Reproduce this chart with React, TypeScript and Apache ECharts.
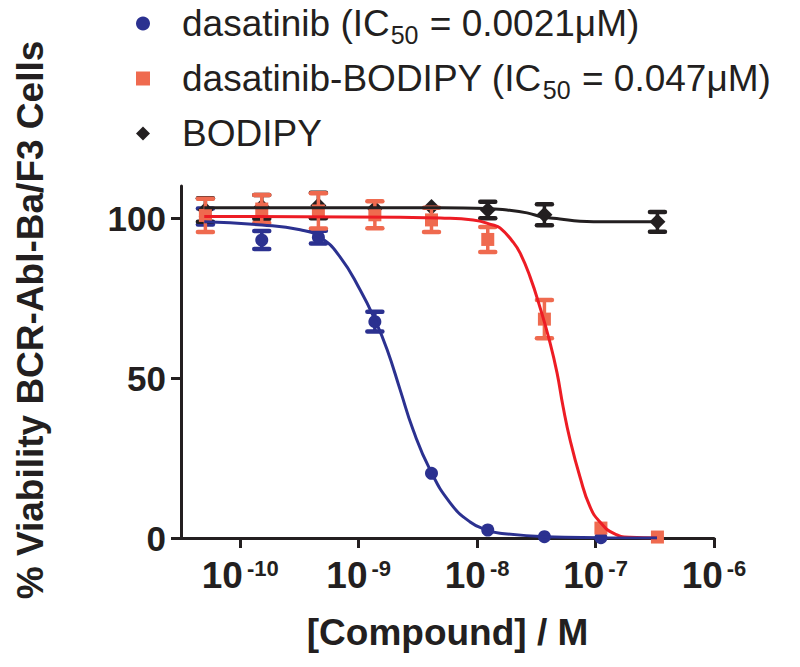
import React, { useEffect, useRef } from "react";
import * as echarts from "echarts";

// ---- data (concentrations in M, viability in %) ----
const concentrations = [5.08e-11, 1.52e-10, 4.57e-10, 1.37e-9, 4.12e-9, 1.23e-8, 3.7e-8, 1.11e-7, 3.33e-7];

const dasatinibMean: (number | null)[] = [100.5, 93.1, 94.0, 67.6, 20.2, 2.5, 0.4, 0.1, null];
const dasatinibErr: (number | null)[] = [2.5, 2.8, 2.0, 3.1, 0, 0, 0, 0, null];

const conjugateMean: (number | null)[] = [100.8, 102.8, 102.2, 101.0, 99.4, 93.3, 68.4, 3.1, 0.3];
const conjugateErr: (number | null)[] = [5.2, 4.4, 5.5, 4.2, 3.8, 3.9, 6.0, 0, 0];

const bodipyMean: (number | null)[] = [102.5, 103.5, 103.9, 103.0, 103.4, 102.5, 101.0, null, 98.8];
const bodipyErr: (number | null)[] = [3.7, 3.7, 4.0, 0, 0, 2.6, 3.3, null, 3.1];

// fitted curves
const dasatinibFitX = [4.97e-11, 1.53e-10, 3.21e-10, 4.73e-10, 6.98e-10, 1.03e-9, 1.38e-9, 1.74e-9, 2.24e-9, 2.88e-9, 4.01e-9, 5.92e-9, 8.73e-9, 1.21e-8, 1.56e-8, 3.75e-8, 1.11e-7, 3.3e-7];
const dasatinibFitY = [98.8, 97.8, 96.3, 94.0, 87.8, 77.5, 68.0, 58.8, 46.3, 33.8, 21.3, 11.0, 5.0, 2.5, 1.5, 0.4, 0.1, 0.0];

const conjugateFitX = [4.97e-11, 3.21e-10, 2.24e-9, 4.88e-9, 9.25e-9, 1.36e-8, 1.56e-8, 2.01e-8, 2.31e-8, 2.8e-8, 3.4e-8, 4.13e-8, 4.73e-8, 5.32e-8, 6.1e-8, 7.4e-8, 8.99e-8, 1.09e-7, 1.41e-7, 1.95e-7, 3.3e-7];
const conjugateFitY = [100.5, 100.4, 100.2, 100.0, 99.4, 97.8, 96.9, 92.5, 89.0, 81.6, 72.0, 61.0, 51.6, 41.0, 30.6, 19.0, 9.7, 5.0, 1.5, 0.2, 0.0];

const bodipyFitX = [4.97e-11, 4.88e-9, 1.21e-8, 1.79e-8, 2.64e-8, 3.61e-8, 5.01e-8, 7.4e-8, 1.25e-7, 3.3e-7];
const bodipyFitY = [103.2, 103.2, 103.0, 102.5, 101.6, 100.3, 99.7, 99.0, 98.8, 98.8];

const seriesNames = [
  "dasatinib (IC50 = 0.0021μM)",
  "dasatinib-BODIPY (IC50 = 0.047μM)",
  "BODIPY",
];
const legendLabels = [
  "{gap|}dasatinib (IC{sub|50} = 0.0021μM)",
  "{gap|}dasatinib-BODIPY (IC{sub|50} = 0.047μM)",
  "{gap|}BODIPY",
];

const xTickExponents = [-10, -9, -8, -7, -6];
const yTicks = [0, 50, 100];

const BLUE = "#2b3190";
const ORANGE = "#ef6a4f";
const RED = "#ed1c24";
const BLACK = "#231f20";
const FONT = "'Liberation Sans', Arial, Helvetica, sans-serif";

function points(mean: (number | null)[], err: (number | null)[]) {
  const out: number[][] = [];
  concentrations.forEach((c, i) => {
    const m = mean[i];
    if (m === null || m === undefined) return;
    out.push([Math.log10(c), m, err[i] || 0]);
  });
  return out;
}

function curve(xs: number[], ys: number[]) {
  return xs.map((x, i) => [Math.log10(x), ys[i]]);
}

function errorBars(color: string, data: number[][], z: number) {
  return {
    type: "custom",
    z,
    silent: true,
    data,
    encode: { x: 0, y: 1 },
    renderItem: (_params: any, api: any) => {
      const x = api.value(0);
      const y = api.value(1);
      const e = api.value(2);
      if (!e) return null;
      const top = api.coord([x, y + e]);
      const bot = api.coord([x, y - e]);
      const hw = 7.5;
      const cap = { stroke: color, lineWidth: 4.5, lineCap: "round" };
      return {
        type: "group",
        children: [
          { type: "line", shape: { x1: top[0], y1: top[1], x2: bot[0], y2: bot[1] }, style: { stroke: color, lineWidth: 3.5 } },
          { type: "line", shape: { x1: top[0] - hw, y1: top[1], x2: top[0] + hw, y2: top[1] }, style: cap },
          { type: "line", shape: { x1: bot[0] - hw, y1: bot[1], x2: bot[0] + hw, y2: bot[1] }, style: cap },
        ],
      };
    },
  };
}

export default function App() {
  const ref = useRef<HTMLDivElement>(null);

  useEffect(() => {
    if (!ref.current) return;
    const chart = echarts.init(ref.current, null, { renderer: "svg" });

    const dasPts = points(dasatinibMean, dasatinibErr);
    const conPts = points(conjugateMean, conjugateErr);
    const bodPts = points(bodipyMean, bodipyErr);

    const lineCommon = { smooth: 0.5, showSymbol: false, silent: true };

    const option: any = {
      animation: false,
      backgroundColor: "#ffffff",
      textStyle: { fontFamily: FONT },
      grid: { left: 181, right: 86, top: 186, bottom: 129, containLabel: false },
      legend: {
        orient: "vertical",
        left: 136,
        top: 0,
        padding: 0,
        itemWidth: 14,
        itemHeight: 14,
        itemGap: 8,
        selectedMode: false,
        data: [
          { name: seriesNames[0], icon: "circle", itemStyle: { color: BLUE, opacity: 1 } },
          { name: seriesNames[1], icon: "rect", itemStyle: { color: ORANGE, opacity: 1 } },
          { name: seriesNames[2], icon: "diamond", itemStyle: { color: BLACK, opacity: 1 } },
        ],
        formatter: (name: string) => legendLabels[seriesNames.indexOf(name)],
        textStyle: {
          fontFamily: FONT,
          fontSize: 37,
          color: BLACK,
          lineHeight: 47,
          rich: {
            gap: { width: 27, fontSize: 37, lineHeight: 47 },
            sub: { fontSize: 25, lineHeight: 25, verticalAlign: "top", padding: [22, 1, 0, 1], fontFamily: FONT, color: BLACK },
          },
        },
      },
      xAxis: {
        type: "value",
        min: -10.5,
        max: -6,
        name: "[Compound] / M",
        nameLocation: "middle",
        nameGap: 76,
        nameTextStyle: { fontSize: 37, fontWeight: "bold", color: BLACK, fontFamily: FONT },
        splitLine: { show: false },
        axisLine: { lineStyle: { color: BLACK, width: 3 } },
        axisTick: { customValues: xTickExponents, length: 10, lineStyle: { color: BLACK, width: 3 } },
        axisLabel: {
          customValues: xTickExponents,
          margin: 17,
          formatter: (v: number) => `{b|10}{s|${v}}`,
          rich: {
            b: { fontSize: 37, fontWeight: "bold", color: BLACK, fontFamily: FONT, lineHeight: 40 },
            s: { fontSize: 22, fontWeight: "bold", color: BLACK, fontFamily: FONT, lineHeight: 24, verticalAlign: "top", padding: [2, 0, 0, 4] },
          },
        },
      },
      yAxis: {
        type: "value",
        min: 0,
        max: 110,
        splitLine: { show: false },
        axisLine: { show: true, lineStyle: { color: BLACK, width: 3 } },
        axisTick: { show: true, customValues: yTicks, length: 10, lineStyle: { color: BLACK, width: 3 } },
        axisLabel: {
          customValues: yTicks,
          margin: 15,
          fontSize: 35,
          fontWeight: "bold",
          color: BLACK,
          fontFamily: FONT,
        },
      },
      graphic: [
        {
          type: "text",
          x: 30,
          y: 320,
          rotation: Math.PI / 2,
          style: {
            text: "% Viability BCR-Abl-Ba/F3 Cells",
            fontSize: 37,
            fontWeight: "bold",
            fontFamily: FONT,
            fill: BLACK,
            textAlign: "center",
            textVerticalAlign: "middle",
          },
        },
      ],
      series: [
        errorBars(BLUE, dasPts, 2),
        { type: "scatter", name: seriesNames[0], data: dasPts, symbol: "circle", symbolSize: 13, itemStyle: { color: BLUE, opacity: 1 }, z: 3, silent: true },
        errorBars(BLACK, bodPts, 4),
        { type: "scatter", name: seriesNames[2], data: bodPts, symbol: "diamond", symbolSize: 16, itemStyle: { color: BLACK, opacity: 1 }, z: 5, silent: true },
        errorBars(ORANGE, conPts, 6),
        { type: "scatter", name: seriesNames[1], data: conPts, symbol: "rect", symbolSize: 13, itemStyle: { color: ORANGE, opacity: 1 }, z: 7, silent: true },
        { type: "line", data: curve(conjugateFitX, conjugateFitY), ...lineCommon, lineStyle: { color: RED, width: 3 }, z: 8 },
        { type: "line", data: curve(bodipyFitX, bodipyFitY), ...lineCommon, lineStyle: { color: BLACK, width: 3 }, z: 9 },
        { type: "line", data: curve(dasatinibFitX, dasatinibFitY), ...lineCommon, lineStyle: { color: BLUE, width: 3 }, z: 10 },
      ],
    };

    chart.setOption(option);
    return () => chart.dispose();
  }, []);

  return <div ref={ref} style={{ width: 800, height: 667, margin: -8 }} />;
}
